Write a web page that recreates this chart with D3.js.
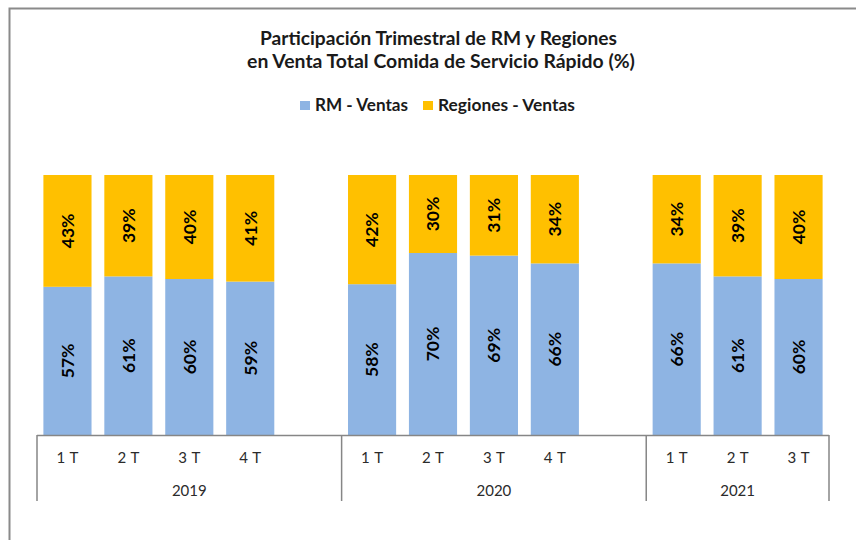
<!DOCTYPE html>
<html>
<head>
<meta charset="utf-8">
<script src="https://cdn.jsdelivr.net/npm/d3@7/dist/d3.min.js"></script>
<style>
  html, body { margin: 0; padding: 0; background: #fff; }
  svg { display: block; }
  text { font-family: Lato, "Open Sans", "Liberation Sans", sans-serif; }
</style>
</head>
<body>
<svg id="chart" width="856" height="540"></svg>
<script>
// ---- data ----
const years = ["2019", "2020", "2021"];
const quarters = ["1 T", "2 T", "3 T", "4 T"];
const quartersPerYear = [4, 4, 3];
const rmVentas = [57, 61, 60, 59, 58, 70, 69, 66, 66, 61, 60];
const regionesVentas = [43, 39, 40, 41, 42, 30, 31, 34, 34, 39, 40];
const seriesNames = ["RM - Ventas", "Regiones - Ventas"];
const titleLines = ["Participación Trimestral de RM y Regiones", "en Venta Total Comida de Servicio Rápido (%)"];

// ---- build rows / slots ----
const rows = [];
const slots = [];
let k = 0;
years.forEach((yr, yi) => {
  for (let q = 0; q < quartersPerYear[yi]; q++) {
    const id = yr + "|" + quarters[q];
    rows.push({ id, year: yr, quarter: quarters[q], rm: rmVentas[k], reg: regionesVentas[k] });
    slots.push(id);
    k++;
  }
  if (yi < years.length - 1) slots.push(yr + "|gap");
});

const colors = ["#8EB4E3", "#FFC000"];
const svg = d3.select("#chart");

// frame
svg.append("path").attr("d", "M9.5,540 V8.5 H856")
  .attr("fill", "none").attr("stroke", "#8a8a8a").attr("stroke-width", 2);

const plotLeft = 37, plotRight = 829, plotTop = 175, plotBottom = 435;
const x = d3.scaleBand().domain(slots).range([plotLeft, plotRight])
  .paddingInner(0.21).paddingOuter(0.105);
const y = d3.scaleLinear().domain([0, 100]).range([plotBottom, plotTop]);

function fit(sel, target) {
  const node = sel.node();
  const fs = parseFloat(sel.attr("font-size"));
  const w = node.getComputedTextLength();
  sel.attr("font-size", (fs * target / w).toFixed(2));
}

// title
const t1 = svg.append("text").attr("x", 438.5).attr("y", 45).attr("text-anchor", "middle")
  .attr("font-weight", "bold").attr("font-size", 18).attr("fill", "#1a1a1a").text(titleLines[0]);
fit(t1, 357);
const t2 = svg.append("text").attr("x", 441).attr("y", 67.5).attr("text-anchor", "middle")
  .attr("font-weight", "bold").attr("font-size", 18).attr("fill", "#1a1a1a").text(titleLines[1]);
fit(t2, 388);

// legend
const legendItems = [
  { name: seriesNames[0], color: colors[0], sx: 300, tx: 315, w: 93 },
  { name: seriesNames[1], color: colors[1], sx: 423, tx: 438, w: 137 }
];
legendItems.forEach(it => {
  svg.append("rect").attr("x", it.sx).attr("y", 101).attr("width", 10).attr("height", 9).attr("fill", it.color);
  const lt = svg.append("text").attr("x", it.tx).attr("y", 110.5).attr("font-weight", "bold")
    .attr("font-size", 15).attr("fill", "#1a1a1a").text(it.name);
  fit(lt, it.w);
});

// bars
const stacked = d3.stack().keys(["rm", "reg"])(rows);
const g = svg.append("g");
stacked.forEach((layer, li) => {
  g.selectAll(null).data(layer).enter().append("rect")
    .attr("x", d => x(d.data.id))
    .attr("width", x.bandwidth())
    .attr("y", d => y(d[1] / (d.data.rm + d.data.reg) * 100))
    .attr("height", d => y(d[0] / (d.data.rm + d.data.reg) * 100) - y(d[1] / (d.data.rm + d.data.reg) * 100))
    .attr("fill", colors[li]);
});

// data labels
stacked.forEach((layer, li) => {
  g.selectAll(null).data(layer).enter().append("text")
    .attr("transform", d => {
      const tot = d.data.rm + d.data.reg;
      const cx = x(d.data.id) + x.bandwidth() / 2;
      const cy = (y(d[0] / tot * 100) + y(d[1] / tot * 100)) / 2;
      return `translate(${cx},${cy}) rotate(-90)`;
    })
    .attr("text-anchor", "middle").attr("dy", "0.36em")
    .attr("font-weight", "bold").attr("font-size", 17.5).attr("fill", "#000")
    .text(d => (li === 0 ? d.data.rm : d.data.reg) + "%");
});

// category axis
const axisColor = "#868686";
svg.append("line").attr("x1", plotLeft).attr("x2", plotRight)
  .attr("y1", plotBottom + 0.5).attr("y2", plotBottom + 0.5)
  .attr("stroke", axisColor).attr("stroke-width", 1.5);

const half = (x.step() - x.bandwidth()) / 2;
const boundaries = [];
years.forEach((yr, yi) => {
  const ids = rows.filter(r => r.year === yr).map(r => r.id);
  const start = x(ids[0]) - half;
  boundaries.push(start);
  const endSlot = yi < years.length - 1 ? yr + "|gap" : ids[ids.length - 1];
  const end = x(endSlot) + x.bandwidth() + half;
  if (yi === years.length - 1) boundaries.push(end);
  svg.append("text").attr("x", (start + end) / 2).attr("y", 495.5)
    .attr("text-anchor", "middle").attr("font-size", 15).attr("fill", "#2b2b2b").text(yr);
});
boundaries.forEach(bx => {
  svg.append("line").attr("x1", bx).attr("x2", bx).attr("y1", plotBottom).attr("y2", 501)
    .attr("stroke", axisColor).attr("stroke-width", 1.5);
});

svg.selectAll(null).data(rows).enter().append("text")
  .attr("x", d => x(d.id) + x.bandwidth() / 2).attr("y", 463)
  .attr("text-anchor", "middle").attr("font-size", 15).attr("fill", "#2b2b2b")
  .attr("word-spacing", "1px")
  .text(d => d.quarter);
</script>
</body>
</html>
